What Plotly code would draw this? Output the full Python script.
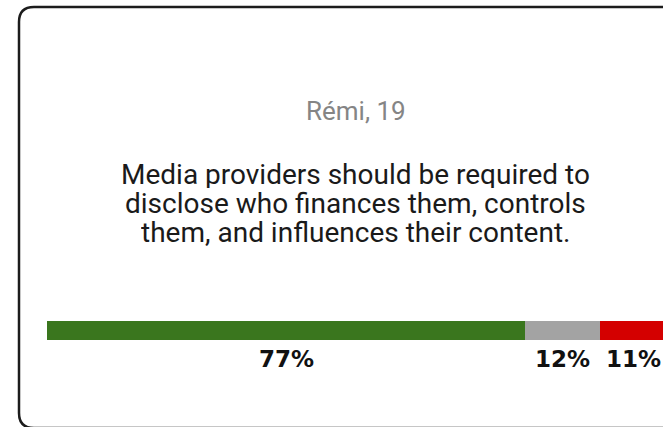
import plotly.graph_objects as go

# Survey response shares for the statement
categories = ["Agree", "Neutral", "Disagree"]
shares = [77, 12, 11]
colors = ["#3a761e", "#a3a3a3", "#d40000"]
label_texts = ["77%", "12%", "11%"]

speaker = "Rémi, 19"
statement_lines = [
    "Media providers should be required to",
    "disclose who finances them, controls",
    "them, and influences their content.",
]

W, H = 663, 427


def px_x(p):
    return p / W


def px_y(p):
    return 1 - p / H


fig = go.Figure()
for cat, val, col in zip(categories, shares, colors):
    fig.add_trace(go.Bar(
        x=[val], y=[0], orientation="h", name=cat,
        marker=dict(color=col, line=dict(width=0)),
        width=1, hoverinfo="skip",
    ))

# Percentage labels centered under each segment
annotations = []
start = 0
for val, txt in zip(shares, label_texts):
    mid = start + val / 2
    annotations.append(dict(
        x=mid, xref="x", y=px_y(359), yref="paper",
        text=f"<b>{txt}</b>", showarrow=False,
        font=dict(family="DejaVu Sans", size=23, color="#111111"),
        xanchor="center", yanchor="middle",
    ))
    start += val

annotations.append(dict(
    x=px_x(356), y=px_y(111), xref="paper", yref="paper",
    text=speaker, showarrow=False,
    font=dict(family="Roboto", size=26, color="#858585"),
    xanchor="center", yanchor="middle",
))

# Statement lines, set with a tight line pitch
line_centers = [174, 203, 232]
for line, cy in zip(statement_lines, line_centers):
    annotations.append(dict(
        x=px_x(355), y=px_y(cy), xref="paper", yref="paper",
        text=line, showarrow=False, height=27, borderpad=0,
        font=dict(family="Roboto", size=28, color="#1a1a1a"),
        xanchor="center", yanchor="middle",
    ))

# Card outline with rounded corners on the left side
L, T, B, R, r = 19, 7, 428, 720, 15
card_path = (
    f"M {px_x(L)},{px_y(B - r)} "
    f"L {px_x(L)},{px_y(T + r)} "
    f"Q {px_x(L)},{px_y(T)} {px_x(L + r)},{px_y(T)} "
    f"L {px_x(R)},{px_y(T)} "
    f"M {px_x(L)},{px_y(B - r)} "
    f"Q {px_x(L)},{px_y(B)} {px_x(L + r)},{px_y(B)} "
    f"L {px_x(R)},{px_y(B)}"
)

bar_left, bar_right_full = 47, 668
x_max = 100 * (W - bar_left) / (bar_right_full - bar_left)

fig.update_layout(
    width=W, height=H,
    margin=dict(l=0, r=0, t=0, b=0),
    paper_bgcolor="white", plot_bgcolor="white",
    barmode="stack", showlegend=False, bargap=0,
    xaxis=dict(domain=[px_x(bar_left), 1], range=[0, x_max],
               visible=False, fixedrange=True),
    yaxis=dict(domain=[px_y(340), px_y(321)], range=[-0.5, 0.5],
               visible=False, fixedrange=True),
    annotations=annotations,
    shapes=[dict(type="path", path=card_path, xref="paper", yref="paper",
                 line=dict(color="#1c1c1c", width=2.5), layer="above")],
)

fig.write_html("out.html", config={"displayModeBar": False})
